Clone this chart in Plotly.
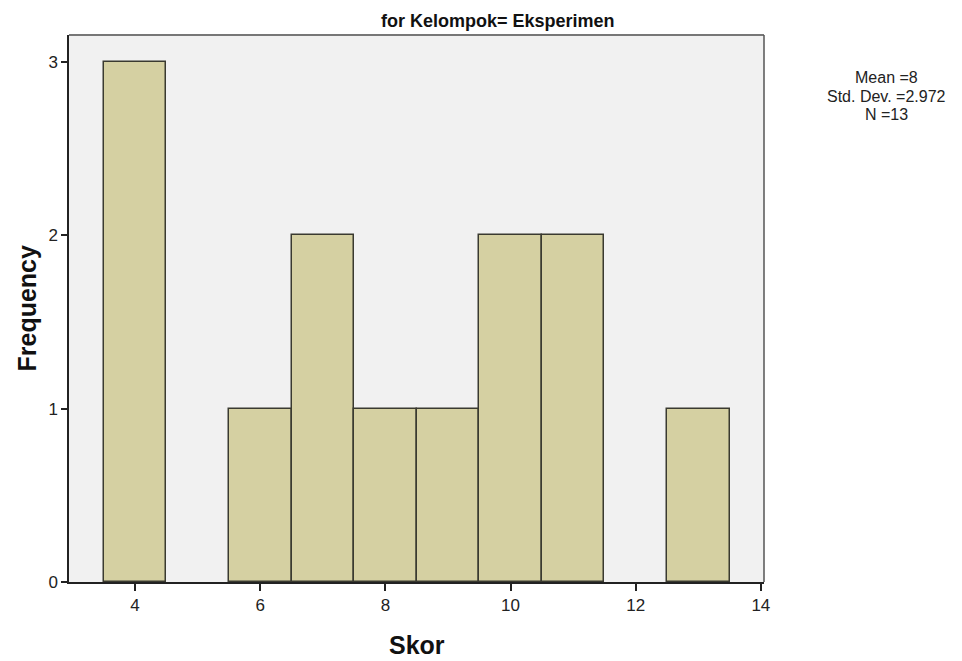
import plotly.graph_objects as go

skor = [4, 6, 7, 8, 9, 10, 11, 13]
frequency = [3, 1, 2, 1, 1, 2, 2, 1]
x_ticks = [4, 6, 8, 10, 12, 14]
y_ticks = [0, 1, 2, 3]
title_text = "for Kelompok= Eksperimen"
stats_lines = ["Mean =8", "Std. Dev. =2.972", "N =13"]

FONT = "Arial, Liberation Sans"
PL, PT, PW, PH = 68, 34, 695, 547  # plot area in reference pixels
OFF = 7  # page offset

fig = go.Figure()
fig.add_trace(go.Bar(
    x=skor, y=frequency, width=1,
    marker=dict(color="#D5D0A2", line=dict(color="#3a3a30", width=1.5)),
    hoverinfo="x+y",
))

fig.update_layout(
    width=962, height=661,
    margin=dict(l=PL - OFF, r=962 - (PL - OFF) - PW, t=PT - OFF, b=661 - (PT - OFF) - PH),
    paper_bgcolor="white",
    plot_bgcolor="#F1F1F1",
    showlegend=False,
    bargap=0,
    font=dict(family=FONT, color="#111"),
)

fig.update_xaxes(
    range=[2.944, 14.05], tickvals=x_ticks, ticktext=[str(v) for v in x_ticks],
    ticks="outside", ticklen=7, tickwidth=1.5, tickcolor="#222",
    showline=True, linecolor="#222", linewidth=1.5,
    showgrid=False, zeroline=False,
    tickfont=dict(size=17, family=FONT, color="#222"),
)
fig.update_yaxes(
    range=[0, 3.156], tickvals=y_ticks, ticktext=[str(v) for v in y_ticks],
    ticks="outside", ticklen=6, tickwidth=1.5, tickcolor="#222",
    showline=True, linecolor="#222", linewidth=1.5,
    showgrid=False, zeroline=False,
    tickfont=dict(size=17, family=FONT, color="#222"),
)

# frame top/right
fig.add_shape(type="line", xref="paper", yref="paper", x0=0, x1=1, y0=1, y1=1,
              line=dict(color="#777", width=2))
fig.add_shape(type="line", xref="paper", yref="paper", x0=1, x1=1, y0=0, y1=1,
              line=dict(color="#555", width=1.5))

# axis titles
fig.add_annotation(text="<b>Skor</b>", xref="paper", yref="paper", x=0.5, y=0,
                   yanchor="middle", yshift=-63, showarrow=False,
                   font=dict(size=25, family=FONT, color="#111"))
fig.add_annotation(text="<b>Frequency</b>", xref="paper", yref="paper", x=0, y=0.5,
                   xanchor="center", xshift=-43, textangle=-90, showarrow=False,
                   font=dict(size=25, family=FONT, color="#111"))

fig.add_annotation(
    text="<b>" + title_text + "</b>", xref="paper", yref="paper",
    x=(497 - PL) / PW, y=1, yanchor="middle", yshift=14, showarrow=False,
    font=dict(size=18, family=FONT, color="#111"),
)
stat_y = [77, 95, 113]
for line, yy in zip(stats_lines, stat_y):
    fig.add_annotation(
        text=line, xref="paper", yref="paper",
        x=(885 - PL) / PW, y=(PT + PH - yy) / PH, xanchor="center", yanchor="middle",
        showarrow=False, borderpad=0,
        font=dict(size=16, family=FONT, color="#222"),
    )

fig.write_html("out.html")
